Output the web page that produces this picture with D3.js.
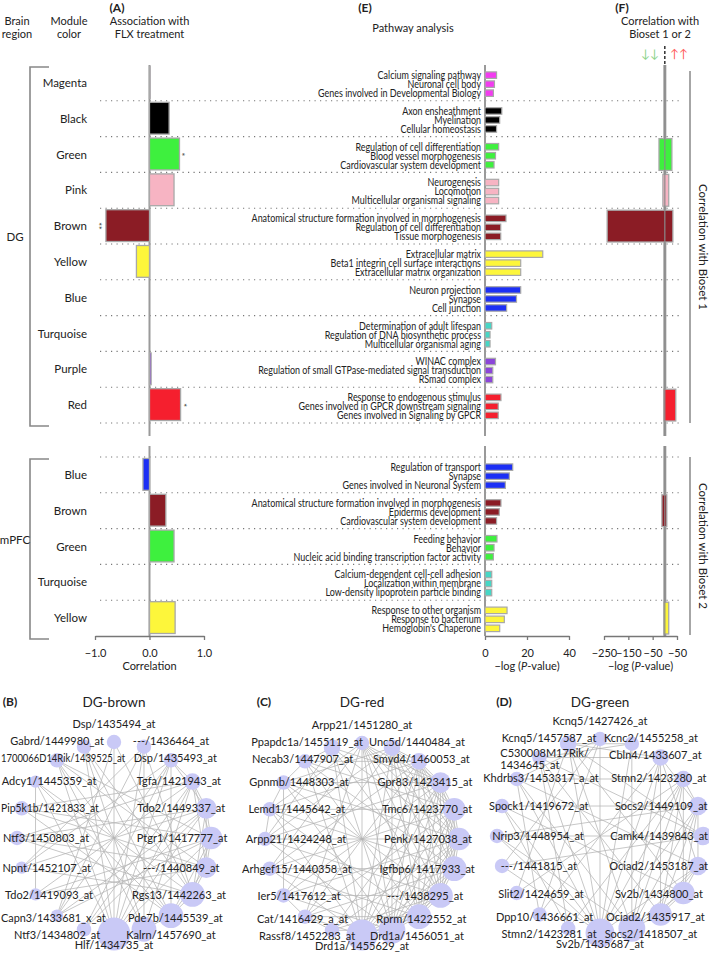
<!DOCTYPE html>
<html><head><meta charset="utf-8">
<script src="https://cdn.jsdelivr.net/npm/d3@7"></script>
<style>
body{margin:0;background:#fff}
svg{display:block}
text{font-family:Lato,"Open Sans",sans-serif;fill:#222}
</style>
</head><body>
<svg id="chart" width="709" height="954"></svg>
<script>
// ---------------- DATA ----------------
const dgModules = ["Magenta","Black","Green","Pink","Brown","Yellow","Blue","Turquoise","Purple","Red"];
const dgCorrelation = [0.01,0.36,0.55,0.45,-0.80,-0.24,0.0,0.0,0.03,0.57];
const dgSignificance = ["","","*","","**","","","","","*"];
const mpfcModules = ["Blue","Brown","Green","Turquoise","Yellow"];
const mpfcCorrelation = [-0.12,0.30,0.45,0.0,0.47];
const mpfcSignificance = ["","","","",""];

const dgPathways = [
 ["Calcium signaling pathway","Neuronal cell body","Genes involved in Developmental Biology"],
 ["Axon ensheathment","Myelination","Cellular homeostasis"],
 ["Regulation of cell differentiation","Blood vessel morphogenesis","Cardiovascular system development"],
 ["Neurogenesis","Locomotion","Multicellular organismal signaling"],
 ["Anatomical structure formation involved in morphogenesis","Regulation of cell differentiation","Tissue morphogenesis"],
 ["Extracellular matrix","Beta1 integrin cell surface interactions","Extracellular matrix organization"],
 ["Neuron projection","Synapse","Cell junction"],
 ["Determination of adult lifespan","Regulation of DNA biosynthetic process","Multicellular organismal aging"],
 ["WINAC complex","Regulation of small GTPase-mediated signal transduction","RSmad complex"],
 ["Response to endogenous stimulus","Genes involved in GPCR downstream signaling","Genes involved in Signaling by GPCR"]
];
const dgPathwayLogP = [[5.5,4.5,4.0],[8.0,7.0,5.5],[6.5,5.0,4.3],[6.5,6.5,6.5],[10.0,7.5,7.5],[27.5,17.0,17.0],[17.0,15.0,10.3],[3.2,2.4,2.4],[5.0,3.7,3.7],[7.6,6.3,6.3]];
const mpfcPathways = [
 ["Regulation of transport","Synapse","Genes involved in Neuronal System"],
 ["Anatomical structure formation involved in morphogenesis","Epidermis development","Cardiovascular system development"],
 ["Feeding behavior","Behavior","Nucleic acid binding transcription factor activity"],
 ["Calcium-dependent cell-cell adhesion","Localization within membrane","Low-density lipoprotein particle binding"],
 ["Response to other organism","Response to bacterium","Hemoglobin's Chaperone"]
];
const mpfcPathwayLogP = [[13.2,11.6,9.7],[7.6,6.8,5.5],[5.7,4.3,4.0],[3.2,3.2,3.2],[10.5,9.2,7.0]];

const dgBiosetDown = [0,0,-24,-8,-237,0,0,0,0,-4];
const dgBiosetUp   = [0,0,29,16,33,0,0,0,0,45];
const mpfcBiosetDown = [0,-12,0,0,-4];
const mpfcBiosetUp   = [0,8,0,0,16];

const corrTicks = [-1,0,1];
const logPTicks = [0,20,40];
const biosetTicks = [-250,-150,-50,50];
const biosetTickLabels = ["\u2212250","\u2212150","\u221250","\u221250"];

const brownGenes = ["Dsp/1435494_at","---/1436464_at","Dsp/1435493_at","Tgfa/1421943_at","Tdo2/1449337_at","Ptgr1/1417777_at","---/1440849_at","Rgs13/1442263_at","Pde7b/1445539_at","Kalrn/1457690_at","Hlf/1434735_at","Ntf3/1434802_at","Capn3/1433681_x_at","Tdo2/1419093_at","Npnt/1452107_at","Ntf3/1450803_at","Pip5k1b/1421833_at","Adcy1/1445359_at","1700066D14Rik/1439525_at","Gabrd/1449980_at"];
const brownWeights = [7,7,7,8,10,11,10,12,12,12,16,7,6,6,6,7,7,6,7,7];
const brownEdges = [[0,10],[17,13],[10,1],[10,2],[10,3],[10,19],[10,18],[10,17],[10,4],[10,5],[9,18],[9,19],[9,1],[9,3],[8,17],[8,16],[8,18],[8,2],[7,15],[7,17],[7,14],[7,1],[6,15],[6,16],[6,13],[5,13],[5,12],[5,16],[4,12],[4,14],[4,11],[3,11],[3,13],[3,15],[2,12],[2,11],[1,14],[1,12],[19,7],[19,8],[18,6],[18,5],[16,3],[15,4],[14,2],[3,4],[4,5],[5,6],[6,7],[7,8],[3,5],[3,6],[4,6],[4,7],[5,7],[5,8],[6,8],[2,3],[2,4],[8,9],[0,7],[0,12]];

const redGenes = ["Arpp21/1451280_at","Unc5d/1440484_at","Smyd4/1460053_at","Gpr83/1423415_at","Tmc6/1423770_at","Penk/1427038_at","Igfbp6/1417933_at","---/1438295_at","Rprm/1422552_at","Drd1a/1456051_at","Drd1a/1455629_at","Rassf8/1452283_at","Cat/1416429_a_at","Ier5/1417612_at","Arhgef15/1440358_at","Arpp21/1424248_at","Lemd1/1445642_at","Gpnmb/1448303_at","Necab3/1447907_at","Ppapdc1a/1455119_at"];
const redWeights = [7,8,8,10,11,11,12,12,12,13,15,7,7,7,7,7,7,7,7,8];
const redEdges = [[0,10],[0,9],[0,8],[0,7],[0,6],[0,5],[0,4],[0,3],[0,12],[0,14],[0,16],
 [1,10],[1,9],[1,8],[1,7],[1,6],[1,5],[1,4],[1,3],[1,2],[1,13],[1,15],[1,17],
 [2,10],[2,9],[2,8],[2,7],[2,6],[2,5],[2,4],[2,3],[2,12],[2,14],[2,16],[2,18],
 [3,10],[3,9],[3,8],[3,7],[3,6],[3,5],[3,4],[3,11],[3,13],[3,15],[3,17],[3,19],
 [4,10],[4,9],[4,8],[4,7],[4,6],[4,5],[4,12],[4,14],[4,16],[4,18],
 [5,10],[5,9],[5,8],[5,7],[5,6],[5,11],[5,13],[5,15],[5,17],[5,19],
 [6,10],[6,9],[6,8],[6,7],[6,12],[6,14],[6,16],[6,18],
 [7,10],[7,9],[7,8],[7,11],[7,13],[7,15],[7,17],[7,19],
 [8,10],[8,9],[8,12],[8,14],[8,16],[8,18],
 [9,10],[9,11],[9,13],[9,15],[9,17],[9,19],
 [10,12],[10,14],[10,16],[10,18],[10,19],
 [16,17],[15,16],[17,18],[18,19],[12,13],[11,12],[15,19],[13,17]];

const greenGenes = ["Kcnq5/1427426_at","Kcnc2/1455258_at","Cbln4/1433607_at","Stmn2/1423280_at","Socs2/1449109_at","Camk4/1439843_at","Ociad2/1453187_at","Sv2b/1434800_at","Ociad2/1435917_at","Socs2/1418507_at","Sv2b/1435687_at","Stmn2/1423281_at","Dpp10/1436661_at","Slit2/1424659_at","---/1441815_at","Nrip3/1448954_at","Spock1/1419672_at","Khdrbs3/1453317_a_at","C530008M17Rik/|1434645_at","Kcnq5/1457587_at"];
const greenWeights = [7,7,8,8,9,9,9,11,11,13,14,7,7,7,7,7,7,7,7,8];
const greenEdges = [[10,0],[10,1],[10,2],[10,3],[10,19],[10,18],[10,17],[10,16],[10,15],[10,14],[10,4],[10,6],
 [9,1],[9,2],[9,3],[9,4],[9,19],[9,17],[9,15],[9,6],[9,7],[9,8],
 [8,2],[8,3],[8,4],[8,18],[8,7],[8,6],
 [7,3],[7,4],[7,19],[7,16],[7,6],
 [6,2],[6,4],[6,17],[5,19],[5,18],[5,15],[4,16],[4,2],[4,3],[3,17],[2,18],[2,19],[1,19],[1,18],
 [0,17],[0,14],[0,12],[19,13],[18,11],[17,12],[16,11],[15,4],[14,5],[12,2],[11,3],[13,3]];

// ---------------- STYLE ----------------
const moduleColors = {Magenta:"#f23cf0",Black:"#000000",Green:"#3ef03e",Pink:"#f7b4c3",Brown:"#8b1c25",
  Yellow:"#fdf63b",Blue:"#1c2ff5",Turquoise:"#46d6c6",Purple:"#8b45d9",Red:"#f51f2e"};
const barStroke = "#a8a8a8";

const svg = d3.select("#chart");

// ---------------- SCALES ----------------
const yDG = d3.scaleBand().domain(dgModules).range([65,423]).padding(0);
const yMP = d3.scaleBand().domain(mpfcModules).range([457,636]).padding(0);
const xA = d3.scaleLinear().domain([-1,1]).range([95,204]);
const xE = d3.scaleLinear().domain([0,40]).range([485,569]);
const xF = d3.scaleLinear().domain([-250,50]).range([604,677]);
const dotX0 = 100, dotX1 = 683;

// ---------------- HEADERS ----------------
function txt(x,y,s,opt={}){
  const t = svg.append("text").attr("x",x).attr("y",y).attr("text-anchor",opt.anchor||"middle")
    .style("font-size",(opt.size||11)+"px").style("font-weight",opt.bold?"bold":"normal");
  if(opt.fill) t.style("fill",opt.fill);
  t.text(s); return t;
}
txt(17,25,"Brain"); txt(17,38,"region");
txt(69,25,"Module"); txt(69,38,"color");
txt(117,12,"(A)",{bold:true,size:12});
txt(xA(0),25,"Association with"); txt(xA(0),38,"FLX treatment");
txt(365,12,"(E)",{bold:true,size:12});
txt(413,32,"Pathway analysis");
txt(622,12,"(F)",{bold:true,size:12});
txt(660,25,"Correlation with"); txt(660,38,"Bioset 1 or 2");
txt(650,58,"\u2193\u2193",{size:12,fill:"#8bd48b"});
txt(679,58,"\u2191\u2191",{size:12,fill:"#ff5c5c"});
svg.append("line").attr("x1",xF(0)).attr("x2",xF(0)).attr("y1",46).attr("y2",66)
  .attr("stroke","#111").attr("stroke-width",1.3).attr("stroke-dasharray","3,2");

// ---------------- REGIONS ----------------
function region(name, modules, corr, sig, pathways, logp, down, up, y, dotsAtBottom, labelY){
  const bw = y.bandwidth();
  const r0 = y.range()[0], r1 = y.range()[1];
  const g = svg.append("g");
  modules.forEach(m=>{
    const yy = dotsAtBottom ? y(m)+bw : y(m);
    g.append("line").attr("x1",dotX0).attr("x2",dotX1).attr("y1",yy).attr("y2",yy)
      .attr("stroke","#777").attr("stroke-width",1.1).attr("stroke-dasharray","1.2,4.3");
  });
  g.append("path").attr("d",`M49,${r0+2}H30V${r1+3}H49`).attr("fill","none").attr("stroke","#888").attr("stroke-width",1.6);
  txt(15,labelY,name,{size:11.5});
  modules.forEach(m=>txt(87,y(m)+bw/2+4,m,{anchor:"end",size:11.5}));
  const zTop = dotsAtBottom ? r0 : r0-11, zBot = dotsAtBottom ? r1+13 : r1;
  [[xA(0),2],[xE(0),2],[xF(0),3]].forEach(([x,w])=>{
    g.append("line").attr("x1",x).attr("x2",x).attr("y1",zTop).attr("y2",zBot).attr("stroke","#9a9a9a").attr("stroke-width",w);
  });
  g.selectAll(null).data(modules).join("rect")
    .attr("x",(m,i)=>xA(Math.min(0,corr[i])))
    .attr("width",(m,i)=>Math.abs(xA(corr[i])-xA(0)))
    .attr("y",m=>y(m)+1.5).attr("height",bw-4)
    .attr("fill",m=>moduleColors[m]).attr("stroke",(m,i)=>corr[i]===0?"none":barStroke).attr("stroke-width",1.3);
  modules.forEach((m,i)=>{
    if(!sig[i]) return;
    const neg = corr[i]<0;
    const x = xA(corr[i]) + (neg?-11:-1);
    const cy = y(m)+bw/2;
    // asterisks stacked vertically (rotated text), as in the reference
    svg.append("text").attr("transform",`translate(${x},${cy}) rotate(90)`).attr("text-anchor","middle")
      .style("font-size","9px").style("fill","#333").text(sig[i]);
  });
  const offs = [-8,1,10];
  modules.forEach((m,i)=>{
    pathways[i].forEach((p,j)=>{
      const cy = y(m)+bw/2+offs[j];
      g.append("rect").attr("x",xE(0)).attr("y",cy-3).attr("width",xE(logp[i][j])-xE(0)).attr("height",6.5)
        .attr("fill",moduleColors[m]).attr("stroke",barStroke).attr("stroke-width",1.2);
      g.append("text").attr("transform",`translate(${xE(0)-4},${cy+4}) scale(0.8,1)`).attr("text-anchor","end")
        .style("font-size","11.2px").text(p);
    });
  });
  modules.forEach((m,i)=>{
    if(down[i]===0 && up[i]===0) return;
    g.append("rect").attr("x",xF(down[i])).attr("width",xF(up[i])-xF(down[i]))
      .attr("y",y(m)+2).attr("height",bw-4)
      .attr("fill",moduleColors[m]).attr("stroke",barStroke).attr("stroke-width",1.3);
  });
  g.append("line").attr("x1",xF(0)).attr("x2",xF(0)).attr("y1",zTop).attr("y2",zBot).attr("stroke","#8a8a8a").attr("stroke-width",1.2);
}
region("DG", dgModules, dgCorrelation, dgSignificance, dgPathways, dgPathwayLogP, dgBiosetDown, dgBiosetUp, yDG, true, 241);
region("mPFC", mpfcModules, mpfcCorrelation, mpfcSignificance, mpfcPathways, mpfcPathwayLogP, mpfcBiosetDown, mpfcBiosetUp, yMP, false, 544);

[[yDG,"Correlation with Bioset 1",6,0],[yMP,"Correlation with Bioset 2",0,-1]].forEach(([y,label,a,b])=>{
  const r0 = y.range()[0]+a, r1 = y.range()[1]+b;
  svg.append("line").attr("x1",690).attr("x2",690).attr("y1",r0).attr("y2",r1).attr("stroke","#888").attr("stroke-width",1.5);
  svg.append("text").attr("transform",`translate(699,${(r0+r1)/2}) rotate(90)`).attr("text-anchor","middle")
    .style("font-size","11.5px").text(label);
});

// ---------------- AXES ----------------
function styleAxis(g){
  g.selectAll(".domain").attr("stroke","#777").attr("stroke-width",1.3);
  g.selectAll(".tick line").attr("stroke","#777").attr("stroke-width",1.3);
  g.selectAll(".tick text").style("font-size","11px").style("font-family","Lato,sans-serif").attr("fill","#222");
}
const axY = 636;
svg.append("g").attr("transform",`translate(0,${axY})`)
  .call(d3.axisBottom(xA).tickValues(corrTicks).tickSize(4).tickPadding(9).tickSizeOuter(0)).call(styleAxis);
svg.append("g").attr("transform",`translate(0,${axY})`)
  .call(d3.axisBottom(xE).tickValues(logPTicks).tickSize(4).tickPadding(9).tickSizeOuter(0)).call(styleAxis);
svg.append("g").attr("transform",`translate(0,${axY})`)
  .call(d3.axisBottom(xF).tickValues(biosetTicks).tickFormat((d,i)=>biosetTickLabels[i]).tickSize(4).tickPadding(9).tickSizeOuter(0)).call(styleAxis);
txt(xA(0),670,"Correlation");
function logPLabel(x){
  const t = svg.append("text").attr("x",x).attr("y",670).attr("text-anchor","middle").style("font-size","11px");
  t.append("tspan").text("\u2212log (");
  t.append("tspan").style("font-style","italic").text("P");
  t.append("tspan").text("-value)");
}
logPLabel(xE(20)); logPLabel(xF(-100));

// ---------------- NETWORKS ----------------
function network(genes, weights, edges, cfg){
  const n = genes.length;
  const ang = d3.scaleLinear().domain([0,n]).range([-Math.PI/2, 3*Math.PI/2]);
  const rScale = d3.scaleLinear().domain([0,16]).range([0,16.5]);
  const nodes = genes.map((gname,i)=>({name:gname,i,a:ang(i),
     x:cfg.cx+cfg.rx*Math.cos(ang(i)), y:cfg.cy+cfg.ry*Math.sin(ang(i)), r:rScale(weights[i])}));
  const g = svg.append("g");
  txt(cfg.letterX,706,cfg.letter,{bold:true,size:12});
  txt(cfg.cx,707,cfg.title,{size:13.5});
  g.selectAll(null).data(edges).join("line")
    .attr("x1",d=>nodes[d[0]].x).attr("y1",d=>nodes[d[0]].y)
    .attr("x2",d=>nodes[d[1]].x).attr("y2",d=>nodes[d[1]].y)
    .attr("stroke","#b4b4b4").attr("stroke-width",0.75);
  g.selectAll(null).data(nodes).join("circle")
    .attr("cx",d=>d.x).attr("cy",d=>d.y).attr("r",d=>d.r).attr("fill","#c9c9f6");
  nodes.forEach(d=>{
    const c = Math.cos(d.a), s = Math.sin(d.a);
    let x, y;
    const parts = d.name.split("|");
    if(Math.abs(c)<0.2){ x=d.x; y = d.y + (s<0 ? -14 : 15); }
    else { x = cfg.cx + Math.sign(c)*(cfg.off + 16*Math.abs(c)); y = d.y + 4 + 7*Math.sign(s)*Math.pow(Math.abs(s),5) + (parts.length-1)*4; }
    const ts = parts.map((p,k)=>svg.append("text").attr("y",y + (k-(parts.length-1)/2)*12.5)
        .attr("text-anchor","start").style("font-size","11px").text(p));
    const wmax = d3.max(ts, t=>t.node().getComputedTextLength());
    let left = x - wmax/2;
    if(left < 1){
      const w = x + wmax/2 - 1;
      ts.forEach(t=>t.attr("textLength", w*t.node().getComputedTextLength()/wmax).attr("lengthAdjust","spacingAndGlyphs"));
      left = 1;
    }
    left = Math.min(left, 708 - wmax);
    ts.forEach(t=>t.attr("x", left));
  });
}
network(brownGenes, brownWeights, brownEdges, {cx:114,cy:838,rx:97,ry:96,off:52,title:"DG-brown",letter:"(B)",letterX:10});
network(redGenes, redWeights, redEdges, {cx:362,cy:839,rx:97,ry:96,off:50,title:"DG-red",letter:"(C)",letterX:264});
network(greenGenes, greenWeights, greenEdges, {cx:600,cy:836,rx:103,ry:97,off:46,title:"DG-green",letter:"(D)",letterX:504});
</script>
</body></html>
